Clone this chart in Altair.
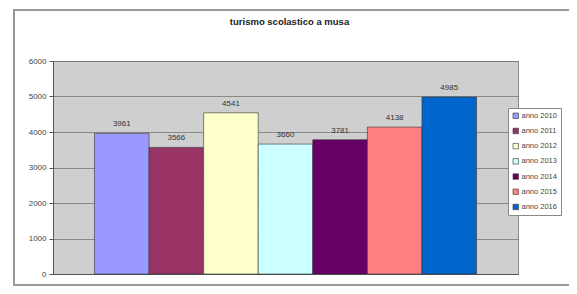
import altair as alt
import pandas as pd

anni = ["anno 2010", "anno 2011", "anno 2012", "anno 2013", "anno 2014", "anno 2015", "anno 2016"]
valori = [3961, 3566, 4541, 3660, 3781, 4138, 4985]
colori = ["#9999FF", "#993366", "#FFFFCC", "#CCFFFF", "#660066", "#FF8080", "#0066CC"]

df = pd.DataFrame({"anno": anni, "valore": valori})

W, H = 465, 213

x = alt.X("anno:N", sort=anni,
          scale=alt.Scale(paddingInner=0, paddingOuter=0.76),
          axis=alt.Axis(labels=False, ticks=False, title=None, domainColor="#555", grid=False))
y = alt.Y("valore:Q", scale=alt.Scale(domain=[0, 6000], nice=False),
          axis=alt.Axis(values=[0, 1000, 2000, 3000, 4000, 5000, 6000], title=None, format="d",
                        labelFont="Arial", labelFontSize=8, labelColor="#444",
                        tickColor="#555", tickSize=4, domainColor="#555",
                        gridColor="#777", gridWidth=0.8, labelPadding=3))

border = alt.Chart(df).mark_rect(fill=None, stroke="#999", strokeWidth=1.5, clip=False).encode(
    x=alt.value(-39), x2=alt.value(520), y=alt.value(-51), y2=alt.value(224))

bars = alt.Chart(df).mark_bar(stroke="#333", strokeWidth=0.6).encode(
    x=x, y=y,
    color=alt.Color("anno:N", sort=anni, scale=alt.Scale(domain=anni, range=colori),
                    legend=alt.Legend(title=None, orient="none", legendX=455, legendY=47,
                                      fillColor="white", strokeColor="#888", padding=4,
                                      symbolType="square", symbolSize=30, symbolStrokeColor="#333",
                                      symbolStrokeWidth=0.6, labelFont="Arial", labelFontSize=7.5,
                                      labelColor="#444", rowPadding=6.2, labelOffset=2)))

labels = alt.Chart(df).mark_text(dy=-9, font="Arial", fontSize=8, color="#333").encode(
    x=x, y=y, text=alt.Text("valore:Q", format="d"))

chart = alt.layer(border, bars, labels).properties(
    width=W, height=H,
    autosize=alt.AutoSizeParams(type="none"),
    padding={"left": 45, "top": 53, "right": 51, "bottom": 12},
    title=alt.TitleParams("turismo scolastico a musa", font="Arial", fontSize=9.5,
                          fontWeight="bold", color="#222", offset=-17, dx=4),
    background="white",
).configure_view(fill="#CFCFCF", stroke="#888", strokeWidth=1)

chart.save("out.html", embed_options={"renderer": "svg", "actions": False})
